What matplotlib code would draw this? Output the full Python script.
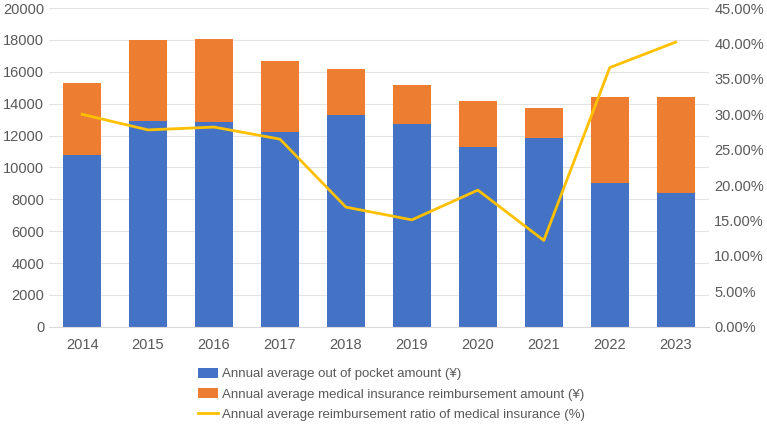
import matplotlib.pyplot as plt
import numpy as np

years = ["2014", "2015", "2016", "2017", "2018", "2019", "2020", "2021", "2022", "2023"]
out_of_pocket = [10750, 12900, 12850, 12200, 13300, 12700, 11300, 11850, 9000, 8400]
reimbursement = [4550, 5100, 5200, 4500, 2900, 2500, 2900, 1850, 5400, 6000]
ratio = [30.0, 27.8, 28.2, 26.5, 16.9, 15.1, 19.3, 12.2, 36.6, 40.2]

plt.rcParams['font.family'] = ['Liberation Sans', 'DejaVu Sans']
text_color = '#595959'

fig = plt.figure(figsize=(7.67, 4.25), dpi=100)
ax = fig.add_axes([0.064, 0.231, 0.860, 0.750])
x = np.arange(len(years))

b1 = ax.bar(x, out_of_pocket, width=0.575, color='#4472C4', zorder=2,
            label='Annual average out of pocket amount (\u00a5)')
b2 = ax.bar(x, reimbursement, width=0.575, bottom=out_of_pocket, color='#ED7D31', zorder=2,
            label='Annual average medical insurance reimbursement amount (\u00a5)')
ax.set_xlim(-0.5, len(years) - 0.5)
ax.set_ylim(0, 20000)
ax.set_yticks(np.arange(0, 20001, 2000))
ax.set_xticks(x)
ax.set_xticklabels(years)
ax.grid(axis='y', color='#E3E3E3', linewidth=0.8, zorder=0)
for s in ['top', 'right', 'left']:
    ax.spines[s].set_visible(False)
ax.spines['bottom'].set_color('#D9D9D9')
ax.tick_params(length=0, colors=text_color, labelsize=10.5)
ax.tick_params(axis='x', pad=8)

ax2 = ax.twinx()
ln, = ax2.plot(x, ratio, color='#FFC000', linewidth=2, zorder=3,
               label='Annual average reimbursement ratio of medical insurance (%)')
ax2.set_ylim(0, 45)
ax2.set_yticks(np.arange(0, 45.1, 5))
ax2.set_yticklabels([f"{v:.2f}%" for v in np.arange(0, 45.1, 5)])
for s in ax2.spines.values():
    s.set_visible(False)
ax2.tick_params(length=0, colors=text_color, labelsize=10.5, pad=4)

fig.legend(handles=[b1, b2, ln], loc='upper left', bbox_to_anchor=(0.250, 0.150),
           frameon=False, fontsize=9.5, labelcolor=text_color, handlelength=1.5,
           handleheight=0.75, handletextpad=0.3, labelspacing=0.6, borderpad=0)

fig.savefig('out.png', dpi=100)
